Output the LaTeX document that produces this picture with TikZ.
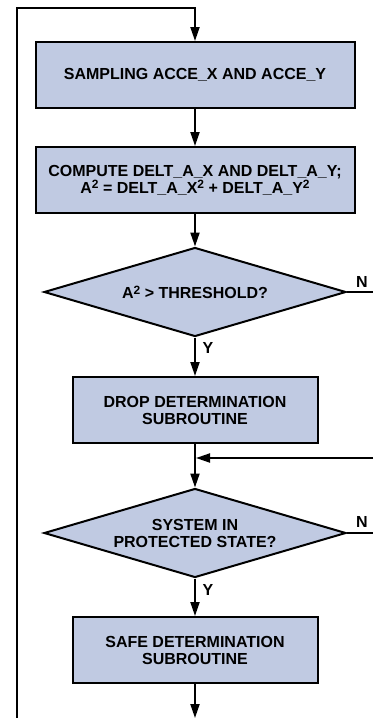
\documentclass[tikz,border=0pt]{standalone}
\usepackage{fontspec}
\setmainfont{Liberation Sans}
\usepackage{tikz}
\usetikzlibrary{shapes.geometric}
\usetikzlibrary{arrows.meta}
\definecolor{boxfill}{RGB}{192,202,226}
\newcommand{\sqr}{\raisebox{0.5ex}{\fontsize{12}{12}\selectfont 2}}
\begin{document}
\begin{tikzpicture}[x=1pt,y=-1pt,line width=2pt,
    font=\fontsize{16}{17}\selectfont\bfseries,
    box/.style={rectangle,draw,fill=boxfill,align=center,minimum height=66pt},
    test/.style={diamond,draw,fill=boxfill,align=center,aspect=3.4,inner sep=0pt,
      minimum width=302pt,minimum height=89pt},
    flow/.style={-{Triangle[length=14pt,width=9pt]}},
    yn/.style={inner sep=0pt}
    ]
  \useasboundingbox (0,0) rectangle (373,718);

  \node[box,minimum width=319pt] (samp) at (195,75) {SAMPLING ACCE\_X AND ACCE\_Y};
  \node[box,minimum width=319pt] (comp) at (195,180)
    {COMPUTE DELT\_A\_X AND DELT\_A\_Y;\\
     A\sqr{} = DELT\_A\_X\sqr{} + DELT\_A\_Y\sqr};
  \node[test] (thr) at (195,292) {A\sqr{} > THRESHOLD?};
  \node[box,minimum width=245pt] (drop) at (195,410) {DROP DETERMINATION\\SUBROUTINE};
  \node[test] (prot) at (195,533) {SYSTEM IN\\PROTECTED STATE?};
  \node[box,minimum width=245pt] (safe) at (195,650) {SAFE DETERMINATION\\SUBROUTINE};

  \coordinate (lb) at (17,718);
  \coordinate (lt) at (17,8);
  \coordinate (n1) at (373,292);
  \coordinate (n2) at (373,533);
  \coordinate (back) at (373,458);
  \coordinate (out) at (195,718);

  \draw[flow] (lb) -- (lt) -- (samp.north |- lt) -- (samp.north);
  \draw[flow] (samp) -- (comp);
  \draw[flow] (comp) -- (thr);
  \draw (thr.east) -- (n1);
  \draw[flow] (thr) -- (drop);
  \draw[flow] (drop) -- (prot);
  \draw[flow] (back) -- ([xshift=1pt]back -| drop.south);
  \draw (prot.east) -- (n2);
  \draw[flow] (prot) -- (safe);
  \draw[flow] (safe) -- (out);

  \node[yn] (thrn) at (362,282) {N};
  \node[yn] (thry) at (208,348) {Y};
  \node[yn] (protn) at (362,522) {N};
  \node[yn] (proty) at (208,590) {Y};
\end{tikzpicture}
\end{document}
